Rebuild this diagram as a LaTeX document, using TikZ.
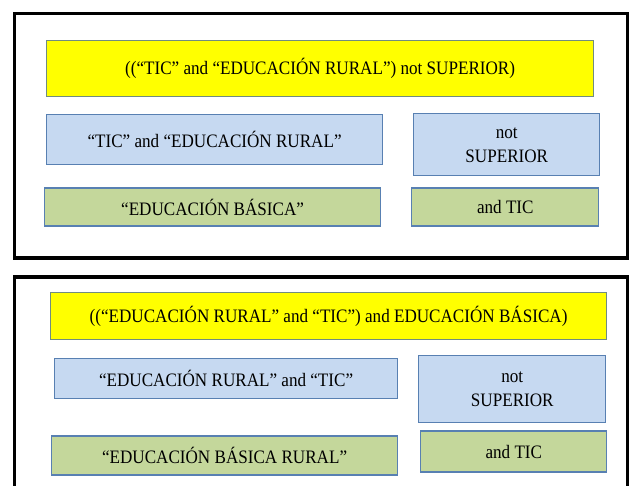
\documentclass[tikz,border=0pt]{standalone}
\usepackage{fontspec}
\setmainfont[FakeStretch=0.9]{Liberation Serif}
\usetikzlibrary{positioning}

\definecolor{boxyellow}{RGB}{255,255,0}
\definecolor{yellowedge}{RGB}{112,140,128}
\definecolor{boxblue}{RGB}{198,217,241}
\definecolor{boxgreen}{RGB}{196,215,155}
\definecolor{boxedge}{RGB}{88,128,178}

\begin{document}
\begin{tikzpicture}
  [x=1pt, y=-1pt,
  panel/.style={draw=black, line width=3.5pt},
  query/.style={rectangle, draw=yellowedge, fill=boxyellow,
    line width=1.2pt, inner sep=0pt, font=\fontsize{19}{24}\selectfont},
  term/.style={rectangle, draw=boxedge, fill=boxblue, align=center,
    line width=1.2pt, inner sep=0pt, font=\fontsize{19}{24}\selectfont},
  limit/.style={rectangle, draw=boxedge, fill=boxgreen,
    line width=1.2pt, inner sep=0pt, font=\fontsize{19}{24}\selectfont}]

  \useasboundingbox (0,0) rectangle (629,486);
  \clip (0,0) rectangle (629,486);

  \draw[panel] (14.5,13.5) rectangle (627.5,258);
  \draw[panel] (14.5,277) rectangle (627.5,520);

  % first search
  \node[query, minimum width=547pt, minimum height=56pt, anchor=north west] (query-one) at (46,40) {((“TIC” and “EDUCACIÓN RURAL”) not SUPERIOR)};
  \node[term, minimum width=336pt, minimum height=50pt] (term-one) [below=17pt of query-one.south west, anchor=north west] {“TIC” and “EDUCACIÓN RURAL”};
  \node[term, minimum width=186pt, minimum height=62pt] (not-one) [right=30pt of term-one.north east, anchor=north west, yshift=1pt] {not\\SUPERIOR};
  \node[limit, minimum width=336pt, minimum height=38pt] (basica-one) [below=22pt of term-one.south west, anchor=north west, xshift=-2pt] {“EDUCACIÓN BÁSICA”};
  \node[limit, minimum width=187pt, minimum height=38pt] (tic-one) [right=30pt of basica-one.north east, anchor=north west] {and TIC};

  % second search
  \node[query, minimum width=556pt, minimum height=47pt, anchor=north west] (query-two) at (50,292) {((“EDUCACIÓN RURAL” and “TIC”) and EDUCACIÓN BÁSICA)};
  \node[term, minimum width=343pt, minimum height=40pt] (term-two) [below=18pt of query-two.south west, anchor=north west, xshift=4pt] {“EDUCACIÓN RURAL” and “TIC”};
  \node[term, minimum width=187pt, minimum height=67pt] (not-two) [right=20pt of term-two.north east, anchor=north west, yshift=3pt] {not\\SUPERIOR};
  \node[limit, minimum width=346pt, minimum height=39pt] (basica-two) [below=36pt of term-two.south west, anchor=north west, xshift=-3pt] {“EDUCACIÓN BÁSICA RURAL”};
  \node[limit, minimum width=186pt, minimum height=41pt] (tic-two) [right=22pt of basica-two.north east, anchor=north west, yshift=5pt] {and TIC};

\end{tikzpicture}
\end{document}
